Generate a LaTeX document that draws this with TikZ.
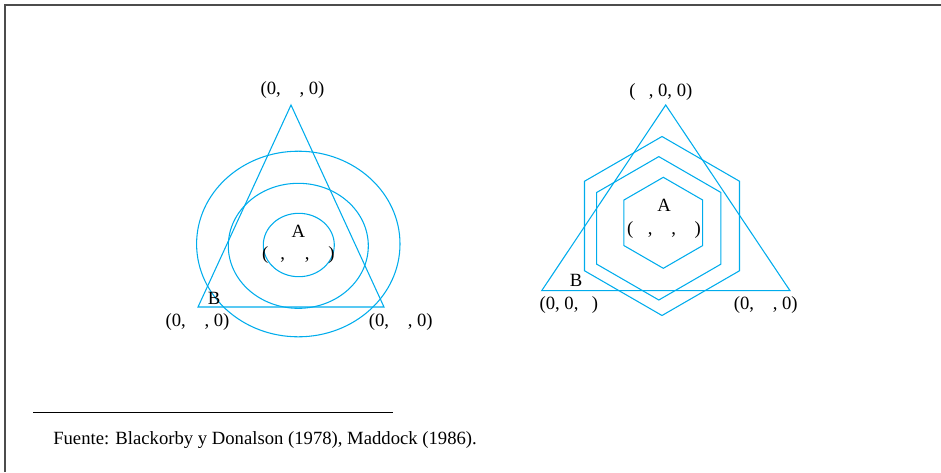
\documentclass[tikz,border=0pt]{standalone}
\usepackage{fontspec}
\setmainfont{Liberation Serif}
\usetikzlibrary{positioning,calc}
\definecolor{curvecyan}{RGB}{0,172,236}
\tikzset{
  curve/.style={draw=curvecyan, line width=0.8pt},
  lbl/.style={font=\fontsize{14}{16}\selectfont, inner sep=0pt},
  note/.style={font=\fontsize{14}{16}\selectfont, inner sep=0pt, anchor=west},
  frame/.style={draw=black!70, line width=1.2pt}
}
\begin{document}
\begin{tikzpicture}[x=0.75pt, y=-0.75pt]
\useasboundingbox (0,0) rectangle (941,472);
\draw[frame] (5,472) -- (5,5) -- (941,5);
% left panel: triangle with elliptic contours
\coordinate (lt) at (291,105);
\coordinate (ll) at (198,307);
\coordinate (lr) at (384,307);
\draw[curve] (lt) -- (ll) -- (lr) -- cycle;
\draw[curve] (298.3,244) ellipse [x radius=101.7, y radius=92.8];
\draw[curve] (298.3,245.8) ellipse [x radius=70, y radius=62.5];
\draw[curve] (298.8,245) ellipse [x radius=35.5, y radius=31.7];
\node[lbl] (ltop) at (292.5,90.5) {(0,\hspace{14pt}, 0)};
\node[lbl] (lA) at (298.3,231) {A};
\node[lbl] (lAc) at (298.3,255) {(\hspace{9pt},\hspace{15pt},\hspace{14pt})};
\node[lbl] (lB) at (214,298) {B};
\node[lbl] (lleft) at (197.5,321.7) {(0,\hspace{14pt}, 0)};
\node[lbl] (lright) at (400.8,321.7) {(0,\hspace{14pt}, 0)};
% right panel: triangle with hexagonal contours
\coordinate (rt) at (665.7,105);
\coordinate (rl) at (541.7,290.7);
\coordinate (rr) at (790,290.7);
\draw[curve] (rt) -- (rl) -- (rr) -- cycle;
\foreach \r/\cx/\cy in {89.5/662/226, 71.7/658.8/228.3, 45.5/663.3/222.8}
  \draw[curve] ($(\cx,\cy)+(30:\r)$) \foreach \a in {90,150,210,270,330} {-- ($(\cx,\cy)+(\a:\r)$)} -- cycle;
\node[lbl] (rtop) at (660.8,91.7) {(\hspace{10pt}, 0, 0)};
\node[lbl] (rA) at (664,205) {A};
\node[lbl] (rAc) at (664,230) {(\hspace{11pt},\hspace{14pt},\hspace{14pt})};
\node[lbl] (rB) at (576,280) {B};
\node[lbl] (rleft) at (568.8,305) {(0, 0,\hspace{10pt})};
\node[lbl] (rright) at (765.8,305) {(0,\hspace{14pt}, 0)};
% source note
\coordinate (rulea) at (33,412.5);
\coordinate (ruleb) at (393,412.5);
\draw[line width=0.8pt] (rulea) -- (ruleb);
\node[note] (src) at (53,440) {Fuente: Blackorby y Donalson (1978), Maddock (1986).};
\end{tikzpicture}
\end{document}
